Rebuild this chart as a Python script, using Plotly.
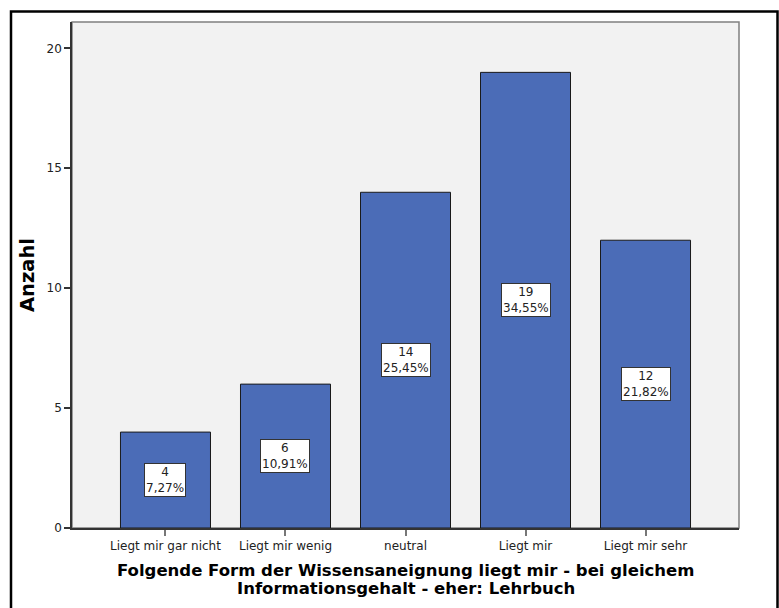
import plotly.graph_objects as go

categories = ["Liegt mir gar nicht", "Liegt mir wenig", "neutral", "Liegt mir", "Liegt mir sehr"]
counts = [4, 6, 14, 19, 12]
y_ticks = [0, 5, 10, 15, 20]

x_title_lines = ["Folgende Form der Wissensaneignung liegt mir - bei gleichem",
                 "Informationsgehalt - eher: Lehrbuch"]
y_title = "Anzahl"

total = sum(counts)
labels = [f"{c}<br>{(100 * c / total):.2f}%".replace(".", ",") for c in counts]

FONT = "DejaVu Sans"

fig = go.Figure()
fig.add_trace(go.Bar(
    x=categories, y=counts,
    marker=dict(color="#4B6CB7", line=dict(color="#1a1a1a", width=1)),
    width=0.75, hoverinfo="skip",
))

for cat, c, lab in zip(categories, counts, labels):
    fig.add_annotation(
        x=cat, y=c / 2, text=lab, showarrow=False,
        font=dict(family=FONT, size=12, color="#222"),
        bgcolor="white", bordercolor="#333", borderwidth=1, borderpad=1,
    )

W, H = 779, 608
L, R, T, B = 72, 40, 22, 80
pw, ph = W - L - R, H - T - B

def px(xp):
    return (xp - L) / pw

def py(yp):
    return (H - B - yp) / ph

# x axis title, two lines
for line, yp in zip(x_title_lines, [570, 588]):
    fig.add_annotation(
        xref="paper", yref="paper", x=0.5, y=py(yp), xanchor="center", yanchor="middle",
        text=line, showarrow=False,
        font=dict(family=FONT, size=16.5, color="black", weight="bold"),
    )

# outer frame
fig.add_shape(type="rect", xref="paper", yref="paper",
              x0=px(11), x1=px(777.5), y0=py(640), y1=py(11.5),
              line=dict(color="black", width=2.5), fillcolor="rgba(0,0,0,0)", layer="above")
# plot border (top/right gray)
fig.add_shape(type="rect", xref="paper", yref="paper",
              x0=0, x1=1, y0=0, y1=1,
              line=dict(color="#808080", width=1.5), fillcolor="rgba(0,0,0,0)", layer="below")

fig.update_layout(
    width=W, height=H,
    margin=dict(l=L, r=R, t=T, b=B),
    paper_bgcolor="white", plot_bgcolor="#f2f2f2",
    showlegend=False,
    font=dict(family=FONT, color="#222"),
    xaxis=dict(
        range=[-0.779, 4.779], showgrid=False, zeroline=False,
        showline=True, linecolor="#333", linewidth=1.5,
        ticks="outside", ticklen=6, tickcolor="#777", tickwidth=1.5,
        tickfont=dict(family=FONT, size=12, color="#222"),
    ),
    yaxis=dict(
        range=[0, 21.1], showgrid=False, zeroline=False,
        tickvals=y_ticks,
        showline=True, linecolor="#333", linewidth=1.5,
        ticks="outside", ticklen=6, tickcolor="#333", tickwidth=1.5,
        tickfont=dict(family=FONT, size=12, color="#222"),
        title=dict(text=y_title, font=dict(family=FONT, size=19.5, color="black", weight="bold"), standoff=7),
    ),
)

fig.write_html(
    "out.html",
    config={"displayModeBar": False},
    post_script="document.body.style.margin='0';document.body.style.overflow='hidden';",
)
